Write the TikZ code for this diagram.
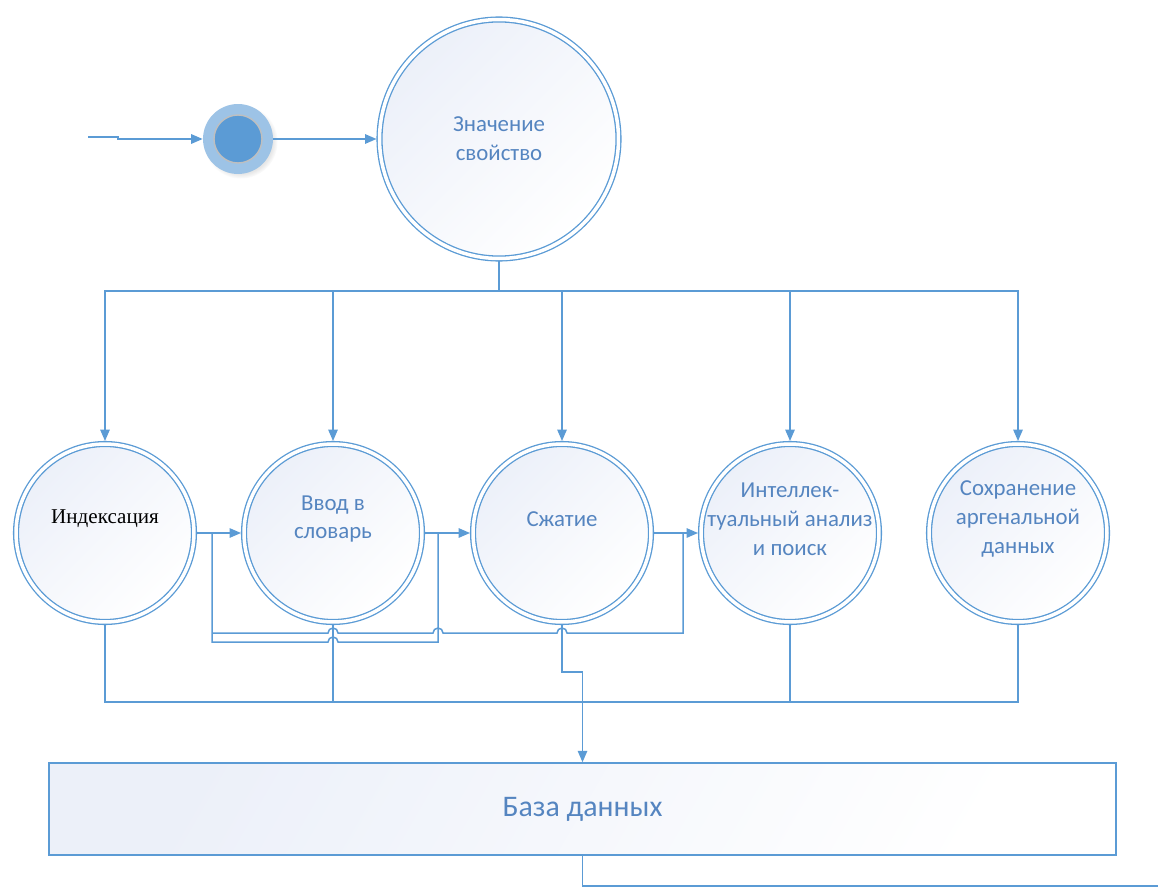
\documentclass[tikz,border=0pt]{standalone}
\usepackage{fontspec}
\setmainfont{Carlito}
\newfontfamily\serifru{Liberation Serif}
\usetikzlibrary{arrows.meta}
\usetikzlibrary{shadows}

\definecolor{lineblue}{HTML}{5B9BD5}
\definecolor{ringblue}{HTML}{9DC3E6}
\definecolor{textblue}{HTML}{5585C0}
\definecolor{fillblue}{HTML}{ECF0F9}

\begin{document}
\begin{tikzpicture}[x=0.02cm,y=-0.02cm,>={Triangle[length=0.23cm,width=0.19cm]},
  conn/.style={draw=lineblue,line width=0.85pt},
  state/.style={circle,draw=lineblue,double=white,double distance=0.07cm,line width=0.75pt,
    top color=fillblue,bottom color=white,shading angle=45,
    minimum size=#1,inner sep=0pt,outer sep=0.06cm},
  state/.default=3.56cm,
  txt/.style={text=textblue,align=center,font=\fontsize{13}{16.5}\selectfont},
  initial/.style={circle,fill=ringblue,minimum size=1.4cm,inner sep=0pt,
    circular drop shadow={shadow scale=1.06,opacity=0.2},
    path picture={\fill[lineblue,draw=black!25,line width=0.8pt]
      (path picture bounding box.center) circle (0.48cm);}}]
\useasboundingbox (0,0) rectangle (1158,888);

% start and first state
\coordinate (in) at (88,137);
\node[initial] (init) at (238,139) {};
\node[state=4.78cm,txt] (val) at (499,139) {Значение\\свойство};

\draw[conn,->] (in) -- (118,137) -- (118,139) -- (init.west);
\draw[conn,->] (init.east) -- (val.west);

% row of states
\foreach \nm/\xx in {idx/105,dict/333,comp/562,mine/790,keep/1018}
  \node[state] (\nm) at (\xx,533) {};

\node[txt,text=black,font=\serifru\fontsize{12}{15}\selectfont] (idxlbl) at ([yshift=0.28cm]idx.center) {Индексация};
\node[txt] (dictlbl) at ([yshift=0.28cm]dict.center) {Ввод в\\словарь};
\node[txt] (complbl) at ([yshift=0.28cm]comp.center) {Сжатие};
\node[txt] (minelbl) at ([yshift=0.28cm]mine.center) {Интеллек-\\туальный анализ\\и поиск};
\node[txt] (keeplbl) at ([yshift=0.28cm]keep.center) {Сохранение\\аргенальной\\данных};

% database
\node[draw=lineblue,line width=0.85pt,top color=fillblue,bottom color=white,shading angle=60,
  minimum width=21.34cm,minimum height=1.84cm,inner sep=0pt,
  text=textblue,font=\fontsize{17}{20}\selectfont] (db) at (582.5,809) {База данных};

% fork from the first state
\coordinate (topbus) at (0,291);
\foreach \nm in {idx,dict,comp,mine,keep}
  \draw[conn,->] (val.south) -- (val.south |- topbus) -| (\nm.north);

% arrows along the row
\draw[conn,->] (idx) -- (dict);
\draw[conn,->] (dict) -- (comp);
\draw[conn,->] (comp) -- (mine);

\coordinate (b1) at (212,533);
\coordinate (b2) at (438,533);
\coordinate (b3) at (683,533);

\draw[conn] (b1) |- (328,642) arc[start angle=180,end angle=360,radius=5] -- (438,642) -- (b2);
\draw[conn] (212,633) -- (328,633) arc[start angle=180,end angle=360,radius=5]
  -- (433,633) arc[start angle=180,end angle=360,radius=5]
  -- (557,633) arc[start angle=180,end angle=360,radius=5] -- (683,633) -- (b3);

% lower bus
\coordinate (lowbus) at (0,702);
\draw[conn] (idx.south) -- (idx.south |- lowbus) -| (keep.south);
\draw[conn] (dict.south) -- (dict.south |- lowbus);
\draw[conn] (mine.south) -- (mine.south |- lowbus);

% into and out of the database
\coordinate (stepc) at (582.5,672);
\draw[conn,->] (comp.south) |- (stepc) -- (db.north);
\coordinate (out) at (1158,886);
\draw[conn] (db.south) |- (out);

\end{tikzpicture}
\end{document}
